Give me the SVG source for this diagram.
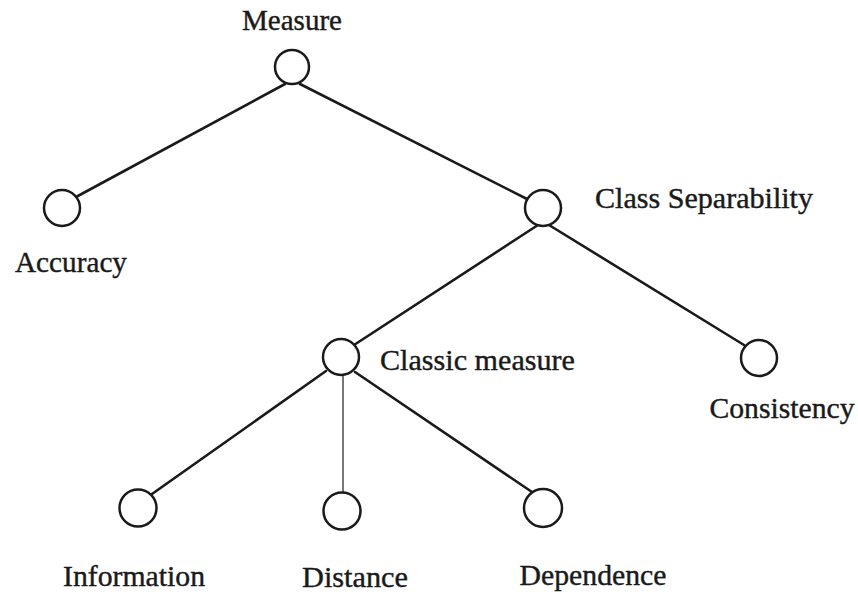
<svg xmlns="http://www.w3.org/2000/svg" width="858" height="594" viewBox="0 0 858 594">
<style>
.n{fill:#fff;stroke:#1a1a1a;stroke-width:2.5}
.e{stroke:#1a1a1a;stroke-width:2.6;fill:none;stroke-linecap:round}
.t{font-family:"Liberation Serif","Times New Roman",serif;font-size:29px;fill:#1a1a1a;stroke:#1a1a1a;stroke-width:0.4}
</style>
<rect width="858" height="594" fill="#fff"/>
<g id="connectors">
<line class="e" x1="285" y1="84" x2="76" y2="197"/>
<line class="e" x1="300" y1="84" x2="527" y2="199"/>
<line class="e" x1="538" y1="225" x2="354" y2="345"/>
<line class="e" x1="549" y1="225" x2="744" y2="345"/>
<line class="e" x1="326" y1="371" x2="152" y2="494"/>
<line class="e" x1="343" y1="375" x2="343" y2="492" style="stroke:#555;stroke-width:1.6"/>
<line class="e" x1="355" y1="372" x2="532" y2="492"/>
</g>
<g id="measure"><circle class="n" cx="292" cy="67" r="17"/><text class="t" x="292" y="30" text-anchor="middle" textLength="100" lengthAdjust="spacingAndGlyphs">Measure</text></g>
<g id="accuracy"><circle class="n" cx="62" cy="208" r="18"/><text class="t" x="71" y="272" text-anchor="middle" textLength="112" lengthAdjust="spacingAndGlyphs">Accuracy</text></g>
<g id="class-separability"><circle class="n" cx="543" cy="208" r="18"/><text class="t" x="595" y="208" textLength="218" lengthAdjust="spacingAndGlyphs">Class Separability</text></g>
<g id="classic-measure"><circle class="n" cx="341" cy="357" r="18"/><text class="t" x="380" y="370" textLength="195" lengthAdjust="spacingAndGlyphs">Classic measure</text></g>
<g id="consistency"><circle class="n" cx="759" cy="358" r="18"/><text class="t" x="782" y="418" text-anchor="middle" textLength="145" lengthAdjust="spacingAndGlyphs">Consistency</text></g>
<g id="information"><circle class="n" cx="138" cy="508" r="18.5"/><text class="t" x="134" y="586" text-anchor="middle" textLength="142" lengthAdjust="spacingAndGlyphs">Information</text></g>
<g id="distance"><circle class="n" cx="342" cy="511" r="18.5"/><text class="t" x="355" y="587" text-anchor="middle" textLength="106" lengthAdjust="spacingAndGlyphs">Distance</text></g>
<g id="dependence"><circle class="n" cx="543" cy="508" r="19"/><text class="t" x="593" y="585" text-anchor="middle" textLength="147" lengthAdjust="spacingAndGlyphs">Dependence</text></g>
</svg>
